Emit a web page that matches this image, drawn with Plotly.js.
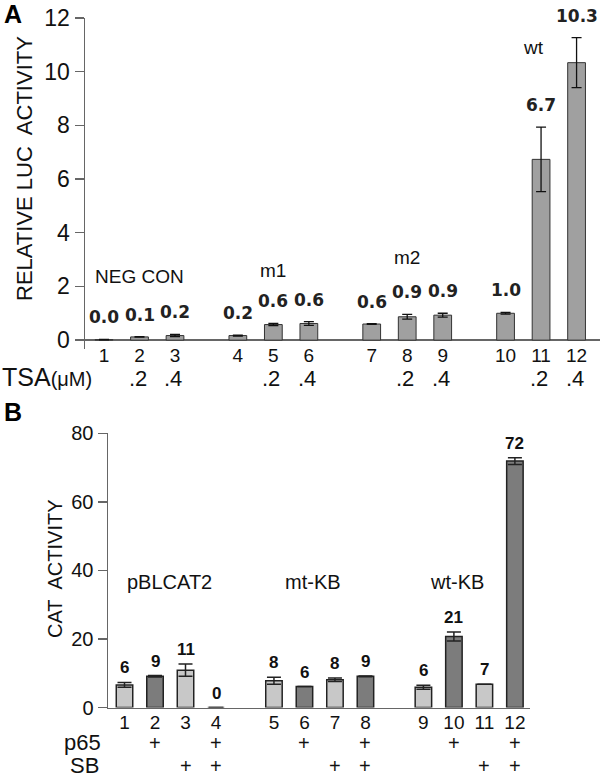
<!DOCTYPE html>
<html>
<head>
<meta charset="utf-8">
<script src="https://cdn.plot.ly/plotly-3.0.1.min.js"></script>
<style>
  html, body { margin: 0; padding: 0; background: #fff; }
  #chart { width: 600px; height: 777px; }
</style>
</head>
<body>
<div id="chart"></div>
<script>
// ---------- Panel A data ----------
const topLabels = ['1','2','3','4','5','6','7','8','9','10','11','12'];
const topValues = [0.02, 0.12, 0.17, 0.17, 0.58, 0.62, 0.60, 0.87, 0.93, 1.00, 6.73, 10.33];
const topErrors = [0.01, 0.01, 0.04, 0.02, 0.04, 0.07, 0.01, 0.09, 0.07, 0.03, 1.20, 0.93];
const topValueText = ['0.0','0.1','0.2','0.2','0.6','0.6','0.6','0.9','0.9','1.0','6.7','10.3'];
const tsaDose = ['', '.2', '.4', '', '.2', '.4', '', '.2', '.4', '', '.2', '.4'];
const topGroups = ['NEG CON', 'm1', 'm2', 'wt'];
const topYTicks = [0, 2, 4, 6, 8, 10, 12];

// ---------- Panel B data ----------
const botLabels = ['1','2','3','4','5','6','7','8','9','10','11','12'];
const botValues = [6.6, 9.1, 10.9, 0, 7.8, 6.1, 8.1, 9.1, 5.9, 20.7, 6.8, 71.9];
const botErrors = [0.7, 0.2, 1.8, 0, 1.0, 0, 0.5, 0.1, 0.6, 1.3, 0, 1.0];
const botValueText = ['6','9','11','0','8','6','8','9','6','21','7','72'];
const p65 = ['', '+', '', '+', '', '+', '', '+', '', '+', '', '+'];
const sb  = ['', '', '+', '+', '', '', '+', '+', '', '', '+', '+'];
const botGroups = ['pBLCAT2', 'mt-KB', 'wt-KB'];
const botYTicks = [0, 20, 40, 60, 80];

// ---------- layout helpers ----------
const W = 600, H = 777;
const py = px => (H - px) / H;   // pixel row -> paper y
const pxX = px => px / W;        // pixel col -> paper x

// bar positions: groups of 3 (A) and 4 (B) with gaps
const topX = topLabels.map((_, i) => Math.floor(i / 3) * 3.77 + (i % 3));
const botX = botLabels.map((_, i) => Math.floor(i / 4) * 4.9 + (i % 4));

const SANS = 'Liberation Sans, Arial, sans-serif';
const TXT = '#111';

const traces = [
  {
    type: 'bar', x: topX, y: topValues, width: 0.5,
    xaxis: 'x', yaxis: 'y',
    marker: { color: '#a0a0a0', line: { color: '#333', width: 1 } },
    error_y: { type: 'data', array: topErrors, visible: true, color: '#111', thickness: 1.3, width: 5 },
    hoverinfo: 'none'
  },
  {
    type: 'bar', x: botX, y: botValues, width: 0.54,
    xaxis: 'x2', yaxis: 'y2',
    marker: { color: p65.map(v => v === '+' ? '#7c7c7c' : '#c8c8c8'), line: { color: '#222', width: 1.5 } },
    error_y: { type: 'data', array: botErrors, visible: true, color: '#222', thickness: 1.5, width: 7 },
    hoverinfo: 'none'
  }
];

const annotations = [];
// value labels A
topValues.forEach((v, i) => annotations.push({
  xref: 'x', yref: 'y', x: topX[i], y: v + topErrors[i], xanchor: 'center', yanchor: 'bottom', yshift: 10,
  text: topValueText[i], showarrow: false,
  font: { family: 'DejaVu Sans, Verdana, sans-serif', size: 17, color: '#222', weight: 'bold' }
}));
// value labels B
botValues.forEach((v, i) => annotations.push({
  xref: 'x2', yref: 'y2', x: botX[i], y: v + botErrors[i], xanchor: 'center', yanchor: 'bottom', yshift: 3,
  text: '<b>' + botValueText[i] + '</b>', showarrow: false,
  font: { family: SANS, size: 17, color: '#111' }
}));
// TSA dose row
tsaDose.forEach((t, i) => { if (t) annotations.push({
  xref: 'x', yref: 'paper', x: topX[i], y: py(378), xanchor: 'center', yanchor: 'middle', xshift: -2,
  text: t, showarrow: false, font: { family: SANS, size: 22, color: TXT }
}); });
annotations.push({
  xref: 'paper', yref: 'paper', x: 0, y: py(377), xanchor: 'left', yanchor: 'middle',
  text: 'TSA<span style="font-size:20px">(μM)</span>', showarrow: false,
  font: { family: SANS, size: 25, color: TXT }
});
// p65 / SB rows
p65.forEach((t, i) => { if (t) annotations.push({
  xref: 'x2', yref: 'paper', x: botX[i], y: py(743), xanchor: 'center', yanchor: 'middle',
  text: t, showarrow: false, font: { family: SANS, size: 20, color: TXT }
}); });
sb.forEach((t, i) => { if (t) annotations.push({
  xref: 'x2', yref: 'paper', x: botX[i], y: py(766), xanchor: 'center', yanchor: 'middle',
  text: t, showarrow: false, font: { family: SANS, size: 20, color: TXT }
}); });
annotations.push({ xref: 'paper', yref: 'paper', x: pxX(103), y: py(742), xanchor: 'right', yanchor: 'middle',
  text: 'p65', showarrow: false, font: { family: SANS, size: 22, color: TXT } });
annotations.push({ xref: 'paper', yref: 'paper', x: pxX(101), y: py(765), xanchor: 'right', yanchor: 'middle',
  text: 'SB', showarrow: false, font: { family: SANS, size: 22, color: TXT } });
// group labels A
const topGroupPos = [[1, 2.38, 0], [4, 2.6, 0], [7, 3.09, 0], [10, 10.9, -8]];
topGroups.forEach((g, k) => annotations.push({
  xref: 'x', yref: 'y', x: topX[topGroupPos[k][0]], y: topGroupPos[k][1], xshift: topGroupPos[k][2],
  xanchor: 'center', yanchor: 'middle', text: g, showarrow: false, font: { family: SANS, size: 19, color: TXT }
}));
// group labels B
const botGroupPx = [169, 313, 457];
botGroups.forEach((g, k) => annotations.push({
  xref: 'paper', yref: 'paper', x: pxX(botGroupPx[k]), y: py(582), xanchor: 'center', yanchor: 'middle',
  text: g, showarrow: false, font: { family: SANS, size: 20, color: TXT }
}));
// axis titles
annotations.push({ xref: 'paper', yref: 'paper', x: pxX(24), y: py(169), xanchor: 'center', yanchor: 'middle', textangle: -90,
  text: 'RELATIVE LUC\u00a0 ACTIVITY', showarrow: false, font: { family: SANS, size: 22, color: TXT } });
annotations.push({ xref: 'paper', yref: 'paper', x: pxX(55), y: py(568), xanchor: 'center', yanchor: 'middle', textangle: -90,
  text: 'CAT\u00a0 ACTIVITY', showarrow: false, font: { family: SANS, size: 20, color: TXT } });
// panel letters
annotations.push({ xref: 'paper', yref: 'paper', x: pxX(2), y: py(14), xanchor: 'left', yanchor: 'middle',
  text: '<b>A</b>', showarrow: false, font: { family: SANS, size: 25, color: '#000' } });
annotations.push({ xref: 'paper', yref: 'paper', x: pxX(2), y: py(412), xanchor: 'left', yanchor: 'middle',
  text: '<b>B</b>', showarrow: false, font: { family: SANS, size: 25, color: '#000' } });

const layout = {
  width: W, height: H,
  margin: { l: 0, r: 0, t: 0, b: 0 },
  paper_bgcolor: '#fff', plot_bgcolor: 'rgba(0,0,0,0)',
  showlegend: false,
  xaxis: {
    domain: [pxX(85), 1], range: [-0.535, 13.97], anchor: 'y',
    tickvals: topX, ticktext: topLabels, ticks: '', showline: false, showgrid: false, zeroline: false,
    ticklabelstandoff: -7,
    tickfont: { family: SANS, size: 19, color: TXT }, fixedrange: true
  },
  yaxis: {
    domain: [py(349), py(17.8)], range: [-0.33, 12], anchor: 'x',
    tickvals: topYTicks, ticks: 'outside', ticklen: 9, tickcolor: '#666', tickwidth: 1.5,
    showline: true, linecolor: '#666', linewidth: 1.5, showgrid: false,
    zeroline: true, zerolinecolor: '#666', zerolinewidth: 1.5,
    tickfont: { family: SANS, size: 23, color: TXT }, fixedrange: true
  },
  xaxis2: {
    domain: [pxX(108), pxX(530)], range: [-0.541, 13.295], anchor: 'y2',
    tickvals: botX, ticktext: botLabels, ticks: '', showline: true, linecolor: '#666', linewidth: 1.5,
    showgrid: false, zeroline: false, ticklabelstandoff: -3,
    tickfont: { family: SANS, size: 19, color: TXT }, fixedrange: true
  },
  yaxis2: {
    domain: [py(707.5), py(433.3)], range: [0, 80], anchor: 'x2',
    tickvals: botYTicks, ticks: 'outside', ticklen: 9, tickcolor: '#666', tickwidth: 1.5,
    showline: true, linecolor: '#666', linewidth: 1.5, showgrid: false, zeroline: false,
    tickfont: { family: SANS, size: 20, color: TXT }, fixedrange: true
  },
  annotations: annotations
};

Plotly.newPlot('chart', traces, layout, { displayModeBar: false, staticPlot: true });
</script>
</body>
</html>
